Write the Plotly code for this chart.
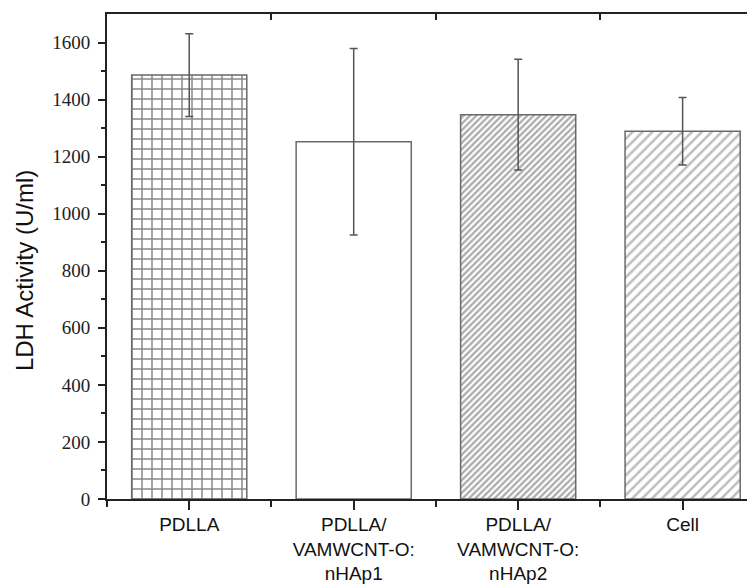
import plotly.graph_objects as go

categories = ["PDLLA", "PDLLA/<br>VAMWCNT-O:<br>nHAp1", "PDLLA/<br>VAMWCNT-O:<br>nHAp2", "Cell"]
values = [1486, 1252, 1347, 1289]
errors = [145, 327, 194, 118]
pattern_shapes = ["+", "", "/", "/"]
pattern_sizes = [10, 8, 4.5, 7]
pattern_colors = ["#111111", "#777777", "#555555", "#777777"]
pattern_solidity = [0.28, 0.2, 0.5, 0.35]

xpos = list(range(len(categories)))

fig = go.Figure()
fig.add_trace(go.Bar(
    x=xpos, y=values, width=0.7,
    marker=dict(
        color="white",
        line=dict(color="#6a6a6a", width=1.5),
        pattern=dict(shape=pattern_shapes, size=pattern_sizes,
                     fgcolor=pattern_colors, bgcolor="white",
                     solidity=pattern_solidity, fillmode="overlay"),
    ),
    error_y=dict(type="data", array=errors, visible=True,
                 color="#555555", thickness=1.5, width=4),
    showlegend=False,
))
# invisible trace on the top axis
fig.add_trace(go.Scatter(x=[0], y=[0], xaxis="x2", mode="markers",
                         marker=dict(opacity=0), showlegend=False, hoverinfo="skip"))

fig.update_layout(
    template="none",
    width=747, height=577,
    margin=dict(l=99, r=0, t=6, b=86, autoexpand=False),
    paper_bgcolor="white", plot_bgcolor="white",
    bargap=0.3,
    xaxis=dict(
        automargin=False,
        range=[-0.5, 3.44], tickmode="array", tickvals=xpos, ticktext=categories,
        showline=True, linecolor="#222", linewidth=2,
        ticks="outside", ticklen=9, tickwidth=1.5, tickcolor="#222",
        minor=dict(tickmode="array", tickvals=[-0.5, 0.5, 1.5, 2.5], ticks="outside",
                   ticklen=6, tickwidth=1.5, tickcolor="#222", showgrid=False),
        showgrid=False, zeroline=False,
        ticklabelstandoff=-2,
        tickfont=dict(family="Liberation Sans", size=19, color="#111"),
    ),
    xaxis2=dict(
        automargin=False,
        overlaying="x", side="top", range=[-0.5, 3.44],
        tickmode="array", tickvals=[0.5, 1.5, 2.5], showticklabels=False,
        showline=True, linecolor="#222", linewidth=2,
        ticks="inside", ticklen=6, tickwidth=1.5, tickcolor="#222",
        showgrid=False, zeroline=False,
    ),
    yaxis=dict(
        automargin=False,
        range=[0, 1700], tickmode="array", tickvals=list(range(0, 1601, 200)),
        showline=True, linecolor="#222", linewidth=2,
        ticks="outside", ticklen=7, tickwidth=1.5, tickcolor="#222",
        minor=dict(tickmode="array", tickvals=list(range(100, 1700, 200)), ticks="outside",
                   ticklen=4, tickwidth=1.5, tickcolor="#222", showgrid=False),
        showgrid=False, zeroline=False,
        ticklabelstandoff=4,
        tickfont=dict(family="Liberation Serif, serif", size=19, color="#222"),
    ),
    annotations=[dict(
        text="LDH Activity (U/ml)", textangle=-90, showarrow=False,
        xref="paper", yref="paper", x=-0.128, y=0.47,
        xanchor="center", yanchor="middle",
        font=dict(family="Liberation Sans", size=24, color="#111"),
    )],
)

fig.write_html("out.html")
